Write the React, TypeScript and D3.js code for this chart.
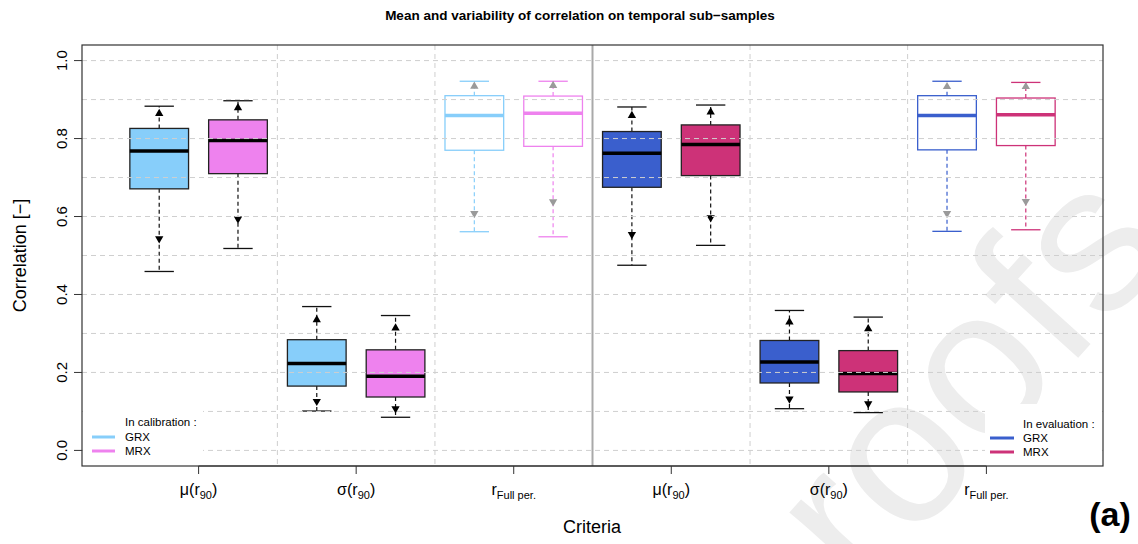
import * as d3 from 'd3';

// x-axis criteria (label, subscript, closing part)
const groupLabels = ['μ(r', 'σ(r', 'r', 'μ(r', 'σ(r', 'r'];
const groupSubs = ['90', '90', 'Full per.', '90', '90', 'Full per.'];
const groupTails = [')', ')', '', ')', ')', ''];
const yTicks = [0, 0.2, 0.4, 0.6, 0.8, 1.0];
const gridValues = [0, 0.1, 0.2, 0.3, 0.4, 0.5, 0.6, 0.7, 0.8, 0.9, 1.0];

// one entry per box, left to right
const boxModel = ['GRX', 'MRX', 'GRX', 'MRX', 'GRX', 'MRX', 'GRX', 'MRX', 'GRX', 'MRX', 'GRX', 'MRX'];
const boxPhase = ['cal', 'cal', 'cal', 'cal', 'cal', 'cal', 'eval', 'eval', 'eval', 'eval', 'eval', 'eval'];
const boxCriterion = ['mu', 'mu', 'sigma', 'sigma', 'full', 'full', 'mu', 'mu', 'sigma', 'sigma', 'full', 'full'];

const lowCap = [0.459, 0.518, 0.101, 0.085, 0.561, 0.548, 0.475, 0.526, 0.107, 0.097, 0.562, 0.566];
const lowMark = [0.543, 0.594, 0.126, 0.107, 0.608, 0.638, 0.554, 0.597, 0.132, 0.120, 0.608, 0.639];
const q1 = [0.671, 0.710, 0.165, 0.137, 0.770, 0.780, 0.675, 0.705, 0.173, 0.150, 0.771, 0.782];
const median = [0.768, 0.795, 0.223, 0.190, 0.859, 0.865, 0.762, 0.785, 0.227, 0.197, 0.859, 0.861];
const q3 = [0.826, 0.848, 0.284, 0.258, 0.910, 0.909, 0.818, 0.835, 0.282, 0.256, 0.910, 0.904];
const highMark = [0.864, 0.879, 0.335, 0.314, 0.934, 0.936, 0.859, 0.868, 0.329, 0.312, 0.933, 0.933];
const highCap = [0.883, 0.897, 0.369, 0.346, 0.947, 0.947, 0.881, 0.886, 0.359, 0.342, 0.947, 0.944];

const COLORS: Record<string, Record<string, string>> = {
  cal: { GRX: '#87CEFA', MRX: '#EE82EE' },
  eval: { GRX: '#3A5FCD', MRX: '#CD3278' },
};

const W = 1138;
const H = 544;
const plot = { left: 82, right: 1103, top: 45, bottom: 466 };
const FONT = '"Liberation Sans", Arial, Helvetica, sans-serif';
const GRID = '#cfcfcf';

export default function App() {
  const x = d3.scaleLinear().domain([-0.98, 11.98]).range([plot.left, plot.right]);
  const y = d3.scaleLinear().domain([-0.04, 1.04]).range([plot.bottom, plot.top]);
  const boxW = x(0.745) - x(0);
  const capW = boxW / 2;
  const tri = d3.symbol().type(d3.symbolTriangle).size(30);

  const boxes = boxModel.map((m, i) => ({
    i,
    model: m,
    phase: boxPhase[i],
    filled: boxCriterion[i] !== 'full',
    color: COLORS[boxPhase[i]][m],
  }));

  return (
    <svg width={W} height={H} style={{ position: 'absolute', left: 0, top: 0, background: '#fff' }} fontFamily={FONT}>
      {/* watermark, partly outside the page as in the source */}
      <text
        transform="translate(1175,250) rotate(-48)"
        textAnchor="end"
        fontSize={210}
        fill="#ededed"
        fontFamily={FONT}
      >
        Journal Pre-proofs
      </text>

      <text x={580} y={20} textAnchor="middle" fontSize={13.5} fontWeight="bold">
        Mean and variability of correlation on temporal sub−samples
      </text>

      {boxes.map(b => {
        const cx = x(b.i);
        const stroke = b.filled ? '#222' : b.color;
        const whisk = b.filled ? '#111' : b.color;
        const markFill = b.filled ? '#000' : '#9a9a9a';
        return (
          <g key={b.i}>
            <line x1={cx} x2={cx} y1={y(q3[b.i])} y2={y(highCap[b.i])} stroke={whisk} strokeWidth={1.2} strokeDasharray="4,3" />
            <line x1={cx} x2={cx} y1={y(q1[b.i])} y2={y(lowCap[b.i])} stroke={whisk} strokeWidth={1.2} strokeDasharray="4,3" />
            <line x1={cx - capW / 2} x2={cx + capW / 2} y1={y(highCap[b.i])} y2={y(highCap[b.i])} stroke={whisk} strokeWidth={1.3} />
            <line x1={cx - capW / 2} x2={cx + capW / 2} y1={y(lowCap[b.i])} y2={y(lowCap[b.i])} stroke={whisk} strokeWidth={1.3} />
            <rect
              x={cx - boxW / 2}
              y={y(q3[b.i])}
              width={boxW}
              height={y(q1[b.i]) - y(q3[b.i])}
              fill={b.filled ? b.color : '#fff'}
              stroke={stroke}
              strokeWidth={1.3}
            />
            <line x1={cx - boxW / 2} x2={cx + boxW / 2} y1={y(median[b.i])} y2={y(median[b.i])} stroke={b.filled ? '#000' : b.color} strokeWidth={3.5} />
            <path d={tri()!} transform={`translate(${cx},${y(highMark[b.i])})`} fill={markFill} />
            <path d={tri()!} transform={`translate(${cx},${y(lowMark[b.i])}) rotate(180)`} fill={markFill} />
          </g>
        );
      })}

      {/* grid on top of the boxes */}
      {gridValues.map(v => (
        <line key={v} x1={plot.left} x2={plot.right} y1={y(v)} y2={y(v)} stroke={GRID} strokeWidth={1} strokeDasharray="5,4" />
      ))}
      {[1.5, 3.5, 7.5, 9.5].map(k => (
        <line key={k} x1={x(k)} x2={x(k)} y1={plot.top} y2={plot.bottom} stroke={GRID} strokeWidth={1} strokeDasharray="5,4" />
      ))}
      <line x1={x(5.5)} x2={x(5.5)} y1={plot.top} y2={plot.bottom} stroke="#a9a9a9" strokeWidth={2} />

      {/* legends */}
      <rect x={plot.left + 1} y={400} width={120} height={plot.bottom - 401} fill="#fff" />
      <text x={125} y={426} fontSize={11.5}>In calibration :</text>
      <line x1={92} x2={115} y1={437} y2={437} stroke={COLORS.cal.GRX} strokeWidth={3} />
      <text x={125} y={441} fontSize={11.5}>GRX</text>
      <line x1={92} x2={115} y1={451} y2={451} stroke={COLORS.cal.MRX} strokeWidth={3} />
      <text x={125} y={455} fontSize={11.5}>MRX</text>

      <rect x={985} y={404} width={plot.right - 986} height={plot.bottom - 405} fill="#fff" />
      <text x={1023} y={428} fontSize={11.5}>In evaluation :</text>
      <line x1={990} x2={1014} y1={438} y2={438} stroke={COLORS.eval.GRX} strokeWidth={3} />
      <text x={1023} y={442} fontSize={11.5}>GRX</text>
      <line x1={990} x2={1014} y1={452} y2={452} stroke={COLORS.eval.MRX} strokeWidth={3} />
      <text x={1023} y={456} fontSize={11.5}>MRX</text>

      {/* frame */}
      <rect x={plot.left} y={plot.top} width={plot.right - plot.left} height={plot.bottom - plot.top} fill="none" stroke="#333" strokeWidth={1.2} />

      {/* y axis */}
      {yTicks.map(v => (
        <g key={v}>
          <line x1={plot.left - 8} x2={plot.left} y1={y(v)} y2={y(v)} stroke="#333" />
          <text transform={`translate(61,${y(v)}) rotate(-90)`} textAnchor="middle" dominantBaseline="central" fontSize={15}>
            {v.toFixed(1)}
          </text>
        </g>
      ))}
      <text transform={`translate(20,${(plot.top + plot.bottom) / 2}) rotate(-90)`} textAnchor="middle" dominantBaseline="central" fontSize={18}>
        Correlation [−]
      </text>

      {/* x axis */}
      <line x1={x(0.5)} x2={x(10.5)} y1={plot.bottom} y2={plot.bottom} stroke="#333" strokeWidth={1.2} />
      {groupLabels.map((lab, g) => {
        const cx = x(g * 2 + 0.5);
        return (
          <g key={g}>
            <line x1={cx} x2={cx} y1={plot.bottom} y2={plot.bottom + 8} stroke="#333" />
            <text x={cx} y={495} textAnchor="middle" fontSize={16}>
              {lab}
              <tspan fontSize={11} dy={4}>{groupSubs[g]}</tspan>
              <tspan dy={-4}>{groupTails[g]}</tspan>
            </text>
          </g>
        );
      })}
      <text x={592} y={533} textAnchor="middle" fontSize={18}>Criteria</text>
      <text x={1110} y={526} textAnchor="middle" fontSize={34} fontWeight="bold">(a)</text>
    </svg>
  );
}
